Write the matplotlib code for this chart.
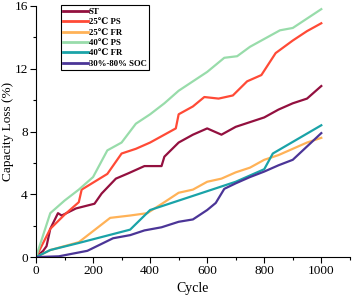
import matplotlib
matplotlib.use("Agg")
import matplotlib.pyplot as plt
from matplotlib.ticker import MultipleLocator

# ── data ─────────────────────────────────────────────────────────────────────
st_cycle = [0, 25, 37, 50, 77, 90, 140, 205, 230, 280, 325, 380, 440, 450, 500,
            550, 600, 650, 700, 750, 800, 850, 900, 950, 1000]
st_loss = [0, 0.4, 0.7, 1.8, 2.8, 2.65, 3.1, 3.4, 4.05, 5.0, 5.35, 5.8, 5.8, 6.4, 7.3,
           7.8, 8.2, 7.8, 8.3, 8.6, 8.9, 9.4, 9.8, 10.1, 10.9]

ps25_cycle = [0, 50, 100, 150, 160, 250, 300, 350, 400, 450, 490, 500, 550, 590,
              640, 690, 740, 790, 840, 900, 950, 1000]
ps25_loss = [0, 1.8, 2.7, 3.5, 4.3, 5.3, 6.6, 6.9, 7.3, 7.8, 8.2, 9.1, 9.6, 10.2,
             10.1, 10.3, 11.2, 11.6, 13.0, 13.8, 14.4, 14.9]

fr25_cycle = [0, 50, 150, 260, 330, 390, 450, 500, 550, 600, 650, 700, 750, 800,
              850, 900, 950, 1000]
fr25_loss = [0, 0.45, 0.95, 2.5, 2.65, 2.8, 3.5, 4.1, 4.3, 4.8, 5.0, 5.4, 5.7, 6.2,
             6.5, 6.9, 7.3, 7.6]

ps40_cycle = [0, 50, 100, 150, 200, 250, 300, 350, 400, 450, 500, 550, 600, 660,
              705, 750, 800, 855, 900, 950, 1000]
ps40_loss = [0, 2.8, 3.6, 4.3, 5.1, 6.8, 7.3, 8.5, 9.1, 9.8, 10.6, 11.2, 11.8, 12.7,
             12.8, 13.4, 13.9, 14.45, 14.6, 15.2, 15.8]

fr40_cycle = [0, 50, 150, 330, 400, 500, 600, 700, 800, 830, 1000]
fr40_loss = [0, 0.45, 0.9, 1.75, 3.0, 3.6, 4.2, 4.8, 5.6, 6.6, 8.4]

soc_cycle = [0, 80, 180, 270, 330, 380, 440, 500, 550, 600, 630, 660, 700, 750,
             800, 850, 900, 1000]
soc_loss = [0, 0.05, 0.4, 1.2, 1.4, 1.7, 1.9, 2.25, 2.4, 3.0, 3.45, 4.35, 4.7, 5.1,
            5.45, 5.85, 6.2, 7.9]

labels = ["ST", "25℃ PS", "25℃ FR", "40℃ PS", "40℃ FR", "30%-80% SOC"]
colors = ["#93103f", "#ff4a36", "#ffb257", "#98dcaa", "#1aa3a8", "#4b3597"]

series = [(st_cycle, st_loss), (ps25_cycle, ps25_loss), (fr25_cycle, fr25_loss),
          (ps40_cycle, ps40_loss), (fr40_cycle, fr40_loss), (soc_cycle, soc_loss)]

serif = ["Liberation Serif", "DejaVu Serif"]
plt.rcParams["font.family"] = serif

fig = plt.figure(figsize=(3.53, 3.0), dpi=100)
ax = fig.add_axes([0.102, 0.143, 0.889, 0.837])

for (x, y), lab, c in zip(series, labels, colors):
    ax.plot(x, y, color=c, lw=1.6, label=lab)

ax.set_xlim(0, 1100)
ax.set_ylim(0, 16)
ax.xaxis.set_major_locator(MultipleLocator(200))
ax.xaxis.set_minor_locator(MultipleLocator(100))
ax.yaxis.set_major_locator(MultipleLocator(4))
ax.yaxis.set_minor_locator(MultipleLocator(2))
ax.spines["top"].set_visible(False)
ax.spines["right"].set_visible(False)
ax.tick_params(which="major", length=4, width=0.8, labelsize=9.5, pad=2)
ax.tick_params(which="minor", length=2, width=0.8)
ax.set_xlabel("Cycle", fontsize=10, labelpad=3)
ax.set_ylabel("Capacity Loss (%)", fontsize=9.5, labelpad=0.5)

leg = ax.legend(loc="upper left", bbox_to_anchor=(0.065, 1.02),
                prop={"family": serif, "weight": "bold", "size": 6.3},
                handlelength=2.8, handletextpad=0.1, labelspacing=0.25,
                borderpad=0.3, fancybox=False, framealpha=1, edgecolor="black")
leg.get_frame().set_linewidth(0.8)
for line in leg.get_lines():
    line.set_linewidth(2.0)

fig.savefig("out.png", dpi=100)
